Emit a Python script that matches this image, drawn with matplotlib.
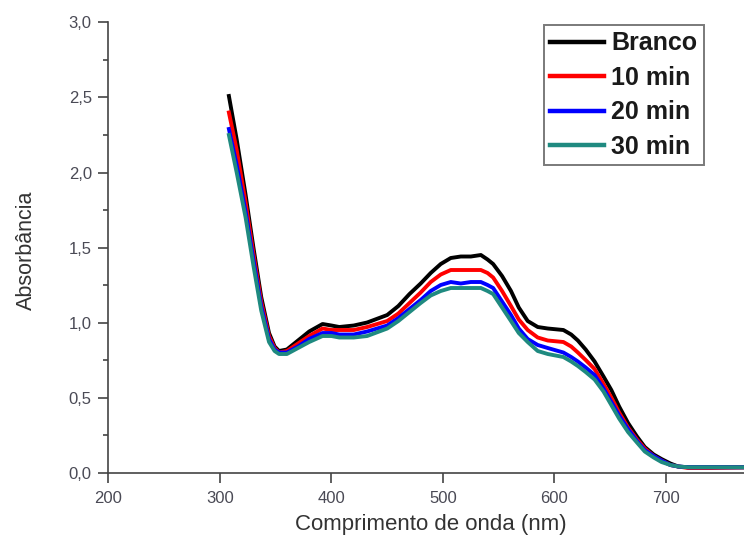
import matplotlib
matplotlib.use("Agg")
import matplotlib.pyplot as plt
from matplotlib.ticker import MultipleLocator, FuncFormatter

plt.rcParams['font.family'] = ['Liberation Sans', 'DejaVu Sans']

# wavelength grid (nm) and absorbance for each sample
wavelength = [308, 315, 323, 330, 337, 344, 349, 353, 360, 370, 380, 392, 400, 407,
              420, 432, 450, 460, 470, 480, 489, 498, 507, 516, 525, 534, 540, 545,
              553, 561, 568, 576, 585, 594, 608, 615, 621, 628, 636, 644, 651, 658,
              666, 674, 681, 689, 696, 704, 711, 720, 740, 775]

branco = [2.51, 2.22, 1.85, 1.50, 1.17, 0.93, 0.84, 0.81, 0.82, 0.88, 0.94, 0.99, 0.98, 0.97,
          0.98, 1.00, 1.05, 1.11, 1.19, 1.26, 1.33, 1.39, 1.43, 1.44, 1.44, 1.45, 1.42, 1.39,
          1.31, 1.21, 1.10, 1.01, 0.97, 0.96, 0.95, 0.92, 0.88, 0.82, 0.74, 0.64, 0.55, 0.44,
          0.33, 0.24, 0.17, 0.12, 0.09, 0.06, 0.04, 0.035, 0.035, 0.035]

min10 = [2.40, 2.15, 1.80, 1.46, 1.14, 0.91, 0.83, 0.80, 0.81, 0.86, 0.91, 0.96, 0.95, 0.95,
         0.95, 0.97, 1.01, 1.06, 1.13, 1.20, 1.27, 1.32, 1.35, 1.35, 1.35, 1.35, 1.33, 1.30,
         1.21, 1.11, 1.02, 0.95, 0.90, 0.88, 0.87, 0.84, 0.80, 0.75, 0.69, 0.59, 0.50, 0.40,
         0.30, 0.22, 0.16, 0.11, 0.08, 0.05, 0.04, 0.03, 0.03, 0.035]

min20 = [2.29, 2.05, 1.74, 1.42, 1.11, 0.89, 0.82, 0.80, 0.80, 0.84, 0.89, 0.93, 0.93, 0.92,
         0.92, 0.94, 0.98, 1.03, 1.09, 1.15, 1.21, 1.25, 1.27, 1.26, 1.27, 1.27, 1.25, 1.23,
         1.14, 1.05, 0.96, 0.89, 0.85, 0.83, 0.80, 0.77, 0.74, 0.70, 0.65, 0.56, 0.47, 0.38,
         0.29, 0.21, 0.15, 0.11, 0.08, 0.05, 0.04, 0.035, 0.035, 0.035]

min30 = [2.25, 2.00, 1.70, 1.38, 1.08, 0.87, 0.81, 0.79, 0.79, 0.83, 0.87, 0.91, 0.91, 0.90,
         0.90, 0.91, 0.96, 1.01, 1.07, 1.13, 1.18, 1.21, 1.23, 1.23, 1.23, 1.23, 1.21, 1.19,
         1.10, 1.01, 0.93, 0.87, 0.81, 0.79, 0.77, 0.74, 0.71, 0.67, 0.62, 0.54, 0.45, 0.36,
         0.27, 0.20, 0.14, 0.10, 0.07, 0.05, 0.04, 0.035, 0.035, 0.035]

labels = ['Branco', '10 min', '20 min', '30 min']
colors = ['black', '#ff0000', '#0000ff', '#1f8a80']

fig = plt.figure(figsize=(7.44, 5.42), dpi=100)
ax = fig.add_axes([0.1458, 0.1282, 0.8542, 0.8303])

for y, lab, c in zip([branco, min10, min20, min30], labels, colors):
    ax.plot(wavelength, y, color=c, lw=2.8, label=lab, solid_joinstyle='round')

ax.set_xlim(200, 770)
ax.set_ylim(0, 3.0)

ax.spines['top'].set_visible(False)
ax.spines['right'].set_visible(False)
for s in ('left', 'bottom'):
    ax.spines[s].set_color('#444444')
    ax.spines[s].set_linewidth(1.2)

ax.xaxis.set_major_locator(MultipleLocator(100))
ax.yaxis.set_major_locator(MultipleLocator(0.5))
ax.yaxis.set_minor_locator(MultipleLocator(0.25))
ax.yaxis.set_major_formatter(FuncFormatter(lambda v, p: f'{v:.1f}'.replace('.', ',')))

ax.tick_params(axis='both', which='major', length=7, width=1.2, color='#444444',
               labelsize=12, labelcolor='#4a4a55', pad=5)
ax.tick_params(axis='y', which='minor', length=3.5, width=1.2, color='#444444')
ax.tick_params(axis='x', pad=6)

ax.set_xlabel('Comprimento de onda (nm)', fontsize=16, color='#333333')
ax.set_ylabel('Absorbância', fontsize=15.5, color='#333333')
ax.xaxis.set_label_coords(0.5075, -0.092)
ax.yaxis.set_label_coords(-0.113, 0.494)

leg = ax.legend(loc='upper left', bbox_to_anchor=(544 / 744, 1 - 25 / 542),
                bbox_transform=fig.transFigure, frameon=True,
                prop={'size': 18, 'weight': 'bold'},
                fancybox=False, borderpad=0.25, borderaxespad=0, handlelength=2.16,
                handletextpad=0.28, labelspacing=0.42)
for line in leg.get_lines():
    line.set_linewidth(3.2)
for t in leg.get_texts():
    t.set_color('#1a1a1a')
frame = leg.get_frame()
frame.set_edgecolor('#7a7a7a')
frame.set_linewidth(1.4)
frame.set_alpha(1)

fig.savefig('out.png', dpi=100)
